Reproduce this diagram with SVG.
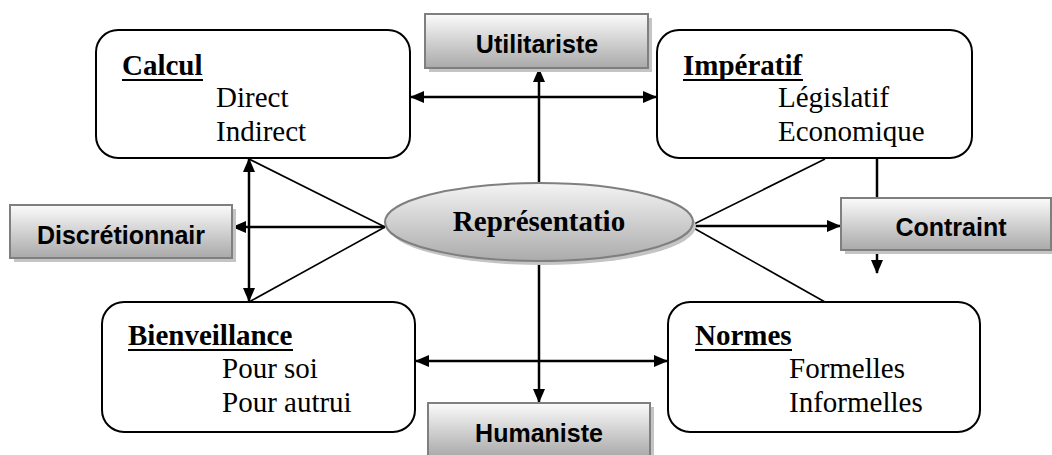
<svg xmlns="http://www.w3.org/2000/svg" width="1052" height="455" viewBox="0 0 1052 455">
<style>
.box{fill:#fff;stroke:#000;stroke-width:2}
.lbl{fill:url(#gr);stroke:#7f7f7f;stroke-width:2}
.sh{fill:#c4c4c4}
.ser{font-family:"Liberation Serif","Times New Roman",serif;font-size:29px;fill:#000}
.b{font-weight:bold}
.san{font-family:"Liberation Sans",Arial,sans-serif;font-weight:bold;font-size:25px;fill:#000;text-anchor:middle}
.ul{stroke:#000;stroke-width:2.2}
.c{stroke:#000;stroke-width:2.5;fill:none}
.d{stroke:#000;stroke-width:1.6;fill:none}
</style>
<defs>
<linearGradient id="gr" x1="0" y1="0" x2="0" y2="1">
<stop offset="0" stop-color="#fbfbfb"/>
<stop offset="1" stop-color="#a9a9a9"/>
</linearGradient>
<linearGradient id="ge" x1="0" y1="0" x2="0" y2="1">
<stop offset="0" stop-color="#f4f4f4"/>
<stop offset="1" stop-color="#ababab"/>
</linearGradient>
<marker id="ar" markerUnits="userSpaceOnUse" markerWidth="14" markerHeight="12" refX="13" refY="6" orient="auto-start-reverse">
<path d="M0,0 L14,6 L0,12 z" fill="#000"/>
</marker>
</defs>

<g id="connectors">
<line class="c" x1="539" y1="183" x2="539" y2="69" marker-end="url(#ar)"/>
<line class="c" x1="411" y1="97" x2="656" y2="97" marker-start="url(#ar)" marker-end="url(#ar)"/>
<line class="c" x1="539" y1="262" x2="539" y2="402" marker-end="url(#ar)"/>
<line class="c" x1="416" y1="361" x2="667" y2="361" marker-start="url(#ar)" marker-end="url(#ar)"/>
<line class="c" x1="249" y1="159" x2="249" y2="301" marker-start="url(#ar)" marker-end="url(#ar)"/>
<line class="c" x1="385" y1="227" x2="233" y2="227" marker-end="url(#ar)"/>
<line class="d" x1="249" y1="159" x2="385" y2="227"/>
<line class="d" x1="249" y1="302" x2="385" y2="227"/>
<line class="d" x1="690" y1="226" x2="825" y2="159"/>
<line class="d" x1="690" y1="226" x2="825" y2="302"/>
<line class="c" x1="690" y1="226" x2="840" y2="226" marker-end="url(#ar)"/>
<line class="c" x1="877" y1="158" x2="877" y2="198"/>
<line class="c" x1="877" y1="251" x2="877" y2="273" marker-end="url(#ar)"/>
</g>

<g id="calcul">
<rect class="box" x="96" y="30" width="314" height="128" rx="22"/>
<text class="ser b" x="122" y="75">Calcul</text>
<line class="ul" x1="122" y1="80" x2="203" y2="80"/>
<text class="ser" x="216" y="107">Direct</text>
<text class="ser" x="216" y="141">Indirect</text>
</g>

<g id="imperatif">
<rect class="box" x="657" y="30" width="315" height="128" rx="22"/>
<text class="ser b" x="683" y="75">Impératif</text>
<line class="ul" x1="683" y1="80" x2="803" y2="80"/>
<text class="ser" x="778" y="107">Législatif</text>
<text class="ser" x="778" y="141">Economique</text>
</g>

<g id="bienveillance">
<rect class="box" x="102" y="302" width="313" height="130" rx="22"/>
<text class="ser b" x="128" y="345">Bienveillance</text>
<line class="ul" x1="128" y1="350" x2="293" y2="350"/>
<text class="ser" x="222" y="378">Pour soi</text>
<text class="ser" x="222" y="412">Pour autrui</text>
</g>

<g id="normes">
<rect class="box" x="668" y="302" width="312" height="130" rx="22"/>
<text class="ser b" x="695" y="345">Normes</text>
<line class="ul" x1="695" y1="350" x2="792" y2="350"/>
<text class="ser" x="789" y="378">Formelles</text>
<text class="ser" x="789" y="412">Informelles</text>
</g>

<g id="utilitariste">
<rect class="sh" x="429" y="18" width="223" height="54"/>
<rect class="lbl" x="425" y="14" width="223" height="54"/>
<text class="san" x="537" y="53">Utilitariste</text>
</g>

<g id="discretionnair">
<rect class="sh" x="14" y="209" width="222" height="53"/>
<rect class="lbl" x="10" y="205" width="222" height="53"/>
<text class="san" x="121" y="244">Discrétionnair</text>
</g>

<g id="contraint">
<rect class="sh" x="845" y="202" width="210" height="52"/>
<rect class="lbl" x="841" y="198" width="210" height="52"/>
<text class="san" x="951" y="236">Contraint</text>
</g>

<g id="humaniste">
<rect class="sh" x="432" y="407" width="222" height="54"/>
<rect class="lbl" x="428" y="403" width="222" height="54"/>
<text class="san" x="539" y="442">Humaniste</text>
</g>

<g id="representation">
<ellipse cx="542" cy="226" rx="154" ry="39" fill="#c4c4c4"/>
<ellipse cx="539" cy="222" rx="154" ry="39" fill="url(#ge)" stroke="#7f7f7f" stroke-width="2"/>
<text class="ser b" x="539" y="231" text-anchor="middle">Représentatio</text>
</g>
</svg>
